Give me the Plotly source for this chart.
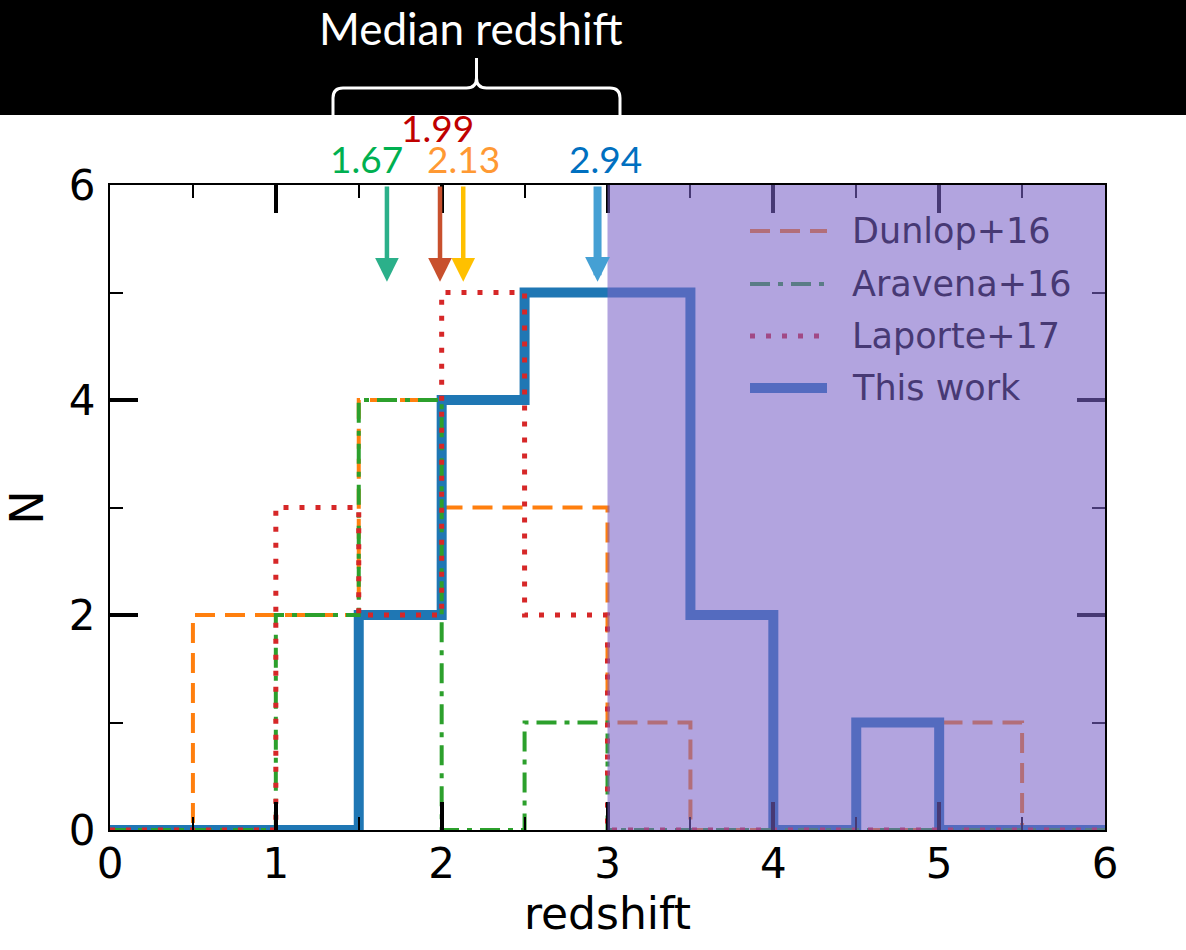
import plotly.graph_objects as go

# Histogram bins (redshift) and counts per survey
bin_edges = [0.0, 0.5, 1.0, 1.5, 2.0, 2.5, 3.0, 3.5, 4.0, 4.5, 5.0, 5.5, 6.0]
dunlop16 = [0, 2, 2, 4, 3, 3, 1, 0, 0, 0, 1, 0]
aravena16 = [0, 0, 2, 4, 0, 1, 0, 0, 0, 0, 0, 0]
laporte17 = [0, 0, 3, 2, 5, 2, 0, 0, 0, 0, 0, 0]
this_work = [0, 0, 0, 2, 4, 5, 5, 2, 0, 1, 0, 0]

series_names = ["Dunlop+16", "Aravena+16", "Laporte+17", "This work"]
series_counts = [dunlop16, aravena16, laporte17, this_work]
median_z = [2.13, 1.67, 1.99, 2.94]
median_labels = ["2.13", "1.67", "1.99", "2.94"]

x_ticks = [0, 1, 2, 3, 4, 5, 6]
x_minor = [0.5, 1.5, 2.5, 3.5, 4.5, 5.5]
y_ticks = [0, 2, 4, 6]
y_minor = [1, 3, 5]
high_z_band = [3.0, 6.0]

# Styles
line_colors = ["#ff7f0e", "#2ca02c", "#d62728", "#1f77b4"]
line_dash = ["20px,10px", "20px,8px,5px,8px", "5px,11px", "solid"]
line_width = [4, 4, 5, 10]
draw_order = [0, 3, 1, 2]
arrow_colors = ["#FFC000", "#2BB08A", "#C8502D", "#45A0D4"]
arrow_width = [4.5, 4.5, 4.5, 8]
arrow_size = [1.05, 1.05, 1.05, 0.62]
label_colors = ["#FF9933", "#00B050", "#C00000", "#0070C0"]
label_xshift = [0, -20, -3, 8]
label_row = [158, 158, 128, 158]

# Semi-transparent band over z > 3
band_rgb = (123, 98, 200)
band_alpha = 0.58

W, H = 1186, 950
L, R, T, B = 110, 1105, 185, 830


def px(xp):
    return (xp - L) / (R - L)


def py(yp):
    return (B - yp) / (B - T)


def hex_rgb(h):
    h = h.lstrip("#")
    return tuple(int(h[i:i + 2], 16) for i in (0, 2, 4))


def under_band(rgb):
    r = [round(c * (1 - band_alpha) + b * band_alpha) for c, b in zip(rgb, band_rgb)]
    return "rgb(%d,%d,%d)" % tuple(r)


fig = go.Figure()

# Step histograms
for i in draw_order:
    counts = series_counts[i]
    fig.add_trace(go.Scatter(
        x=bin_edges,
        y=counts + [counts[-1]],
        mode="lines",
        line=dict(shape="hv", color=line_colors[i], width=line_width[i], dash=line_dash[i]),
        name=series_names[i],
        showlegend=False,
        hoverinfo="skip",
    ))

# Shaded high-redshift region (drawn above everything in the axes)
fig.add_shape(
    type="rect", xref="x", yref="y",
    x0=high_z_band[0], x1=high_z_band[1], y0=0, y1=6,
    fillcolor="rgba(%d,%d,%d,%.2f)" % (band_rgb + (band_alpha,)),
    line=dict(width=0), layer="above",
)

# Header banner with brace
fig.add_shape(type="rect", xref="paper", yref="paper",
              x0=px(0), x1=px(W), y0=py(115), y1=py(-2),
              fillcolor="black", line=dict(width=0), layer="above")


def brace_path(x0, x1, ybar, ytip, yend, r=10):
    xc = (x0 + x1) / 2
    pts = [
        ("M", (x0, yend)), ("L", (x0, ybar + r)), ("Q", (x0, ybar), (x0 + r, ybar)),
        ("L", (xc - r, ybar)), ("Q", (xc, ybar), (xc, ybar - r)), ("L", (xc, ytip)),
        ("L", (xc, ybar - r)), ("Q", (xc, ybar), (xc + r, ybar)),
        ("L", (x1 - r, ybar)), ("Q", (x1, ybar), (x1, ybar + r)), ("L", (x1, yend)),
    ]
    out = []
    for seg in pts:
        cmd, coords = seg[0], seg[1:]
        out.append(cmd + " ".join("%.5f,%.5f" % (px(a), py(b)) for a, b in coords))
    return " ".join(out)


fig.add_shape(type="path", xref="paper", yref="paper",
              path=brace_path(333, 620, 88, 58, 118),
              line=dict(color="white", width=3), layer="above")

fig.add_annotation(text="Median redshift", xref="paper", yref="paper",
                   x=px(471), y=py(28), xanchor="center", yanchor="middle",
                   showarrow=False,
                   font=dict(family="Lato", size=44, color="white"))

# Median arrows and labels
for i in range(4):
    fig.add_annotation(
        x=median_z[i], y=5.1, ax=median_z[i], ay=6.0,
        xref="x", yref="y", axref="x", ayref="y",
        text="", showarrow=True, arrowhead=2, arrowsize=arrow_size[i],
        arrowwidth=arrow_width[i], arrowcolor=arrow_colors[i], standoff=0,
    )
    fig.add_annotation(
        x=median_z[i], y=py(label_row[i]), xref="x", yref="paper",
        xanchor="center", yanchor="middle",
        xshift=label_xshift[i], text=median_labels[i], showarrow=False,
        font=dict(family="Lato", size=37, color=label_colors[i]),
    )

# Legend (inside the shaded area)
leg_rows = [231, 284, 336, 388]
for i in range(4):
    fig.add_shape(type="line", xref="paper", yref="paper",
                  x0=px(750), x1=px(827), y0=py(leg_rows[i]), y1=py(leg_rows[i]),
                  line=dict(color=under_band(hex_rgb(line_colors[i])),
                            width=line_width[i], dash=line_dash[i]),
                  layer="above")
    fig.add_annotation(text=series_names[i], xref="paper", yref="paper",
                       x=px(850), y=py(leg_rows[i]), xanchor="left", yanchor="middle",
                       showarrow=False,
                       font=dict(family="DejaVu Sans", size=35,
                                 color=under_band((0, 0, 0))))

axis_common = dict(
    showgrid=False, zeroline=False, showline=True, linecolor="black", linewidth=2,
    mirror="allticks", ticks="inside", ticklen=28, tickwidth=4, tickcolor="black",
    tickfont=dict(family="DejaVu Sans", size=42, color="black"),
)

fig.update_xaxes(
    range=[0, 6], tickvals=x_ticks,
    minor=dict(tickvals=x_minor, ticks="inside", ticklen=13, tickwidth=2, tickcolor="black"),
    title=dict(text="redshift", font=dict(family="DejaVu Sans", size=44, color="black"), standoff=2),
    ticklabelstandoff=-4,
    **axis_common,
)
fig.update_yaxes(
    range=[0, 6], tickvals=y_ticks,
    minor=dict(tickvals=y_minor, ticks="inside", ticklen=13, tickwidth=2, tickcolor="black"),
    title=dict(text="N", font=dict(family="DejaVu Sans", size=46, color="black"), standoff=22),
    ticklabelstandoff=4,
    **axis_common,
)

fig.update_layout(
    width=W, height=H,
    margin=dict(l=L, r=W - R, t=T, b=H - B, autoexpand=False),
    paper_bgcolor="white", plot_bgcolor="white",
    showlegend=False,
)

fig.write_html("out.html")
